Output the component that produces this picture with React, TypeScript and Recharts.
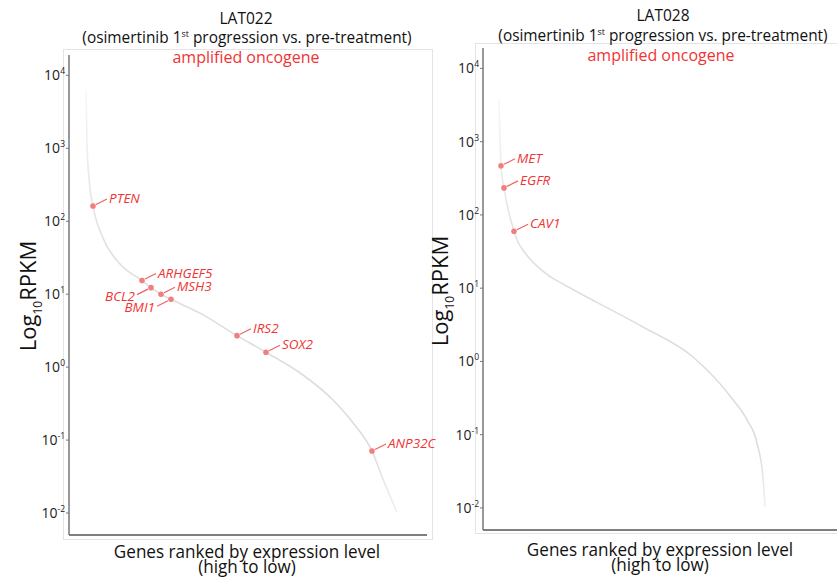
import React from 'react';
import { ComposedChart, Line, Scatter, XAxis, YAxis } from 'recharts';

// LAT022 ranked expression curve (rank, RPKM)
const lat022Rank = [950, 1006, 1117, 1341, 1899, 2849, 4078, 4581, 5140, 5698, 7318, 9385, 11006, 13073, 14749, 15866, 16927, 17542, 18324];
const lat022Rpkm = [6400, 1140, 390, 162, 59, 26, 15.4, 12.3, 10, 8.5, 5.5, 2.7, 1.6, 0.78, 0.355, 0.173, 0.071, 0.029, 0.0102];
const lat022Genes = ['PTEN', 'ARHGEF5', 'BCL2', 'MSH3', 'BMI1', 'IRS2', 'SOX2', 'ANP32C'];
const lat022GeneRank = [1341, 4078, 4581, 5140, 5698, 9385, 11006, 16927];
const lat022GeneRpkm = [162, 15.4, 12.3, 10, 8.5, 2.7, 1.6, 0.071];

// LAT028
const lat028Rank = [894, 950, 1006, 1173, 1732, 1955, 2235, 2626, 3017, 3631, 4469, 6369, 8939, 11732, 13966, 14749, 15307, 15642, 15754];
const lat028Rpkm = [3890, 1100, 468, 234, 60, 42.7, 33, 25, 20, 15.1, 11.4, 6.4, 2.95, 1.15, 0.3, 0.159, 0.077, 0.026, 0.0103];
const lat028Genes = ['MET', 'EGFR', 'CAV1'];
const lat028GeneRank = [1006, 1173, 1732];
const lat028GeneRpkm = [468, 234, 60];

const yTicks = [0.01, 0.1, 1, 10, 100, 1000, 10000];
const leftSideLabels = ['BCL2', 'BMI1'];

const FONT = '"Open Sans", sans-serif';
const RED = '#ef3434';

const curveOf = (ranks: number[], vals: number[]) => ranks.map((rank, i) => ({ rank, rpkm: vals[i] }));
const genesOf = (names: string[], ranks: number[], vals: number[]) =>
  names.map((gene, i) => ({ gene, rank: ranks[i], rpkm: vals[i], side: leftSideLabels.includes(gene) ? 'left' : 'right' }));

const PowerTick = ({ x, y, payload }: any) => {
  const exp = Math.round(Math.log10(payload.value));
  return (
    <text x={x + 1} y={y + 5} textAnchor="end" fontSize={14} fontFamily={FONT} fill="#222">
      10<tspan dy={-6} fontSize={8.5}>{exp}</tspan>
    </text>
  );
};

const GeneMark = (props: any) => {
  const { cx, cy, payload } = props;
  if (cx == null || cy == null) return null;
  const left = payload.side === 'left';
  const s = left ? -1 : 1;
  const dy = left ? 1 : -1;
  return (
    <g>
      <line x1={cx + s * 3} y1={cy + dy * 1.5} x2={cx + s * 14} y2={cy + dy * 7} stroke="#f06060" strokeWidth={1.2} />
      <circle cx={cx} cy={cy} r={2.8} fill="#f08080" />
      <text
        x={cx + s * 16}
        y={cy + dy * 8 + 5}
        textAnchor={left ? 'end' : 'start'}
        fontSize={13.5}
        fontStyle="italic"
        fontFamily={FONT}
        fill={RED}
      >
        {payload.gene}
      </text>
    </g>
  );
};

type PanelProps = {
  id: string;
  curve: { rank: number; rpkm: number }[];
  genes: any[];
  left: number;
  top: number;
  bottom: number;
};

function Panel({ id, curve, genes, left, top, bottom }: PanelProps) {
  const width = 460;
  return (
    <div style={{ position: 'absolute', left, top: 0 }}>
      <ComposedChart
        width={width}
        height={579}
        margin={{ top, left: 69 - 40, right: width - 69 - 358, bottom: 579 - bottom - 2 }}
      >
        <defs>
          <linearGradient id={id + 'grad'} x1="0" y1="0" x2="0" y2="1">
            <stop offset="0%" stopColor="#f7f7f7" />
            <stop offset="35%" stopColor="#e0e0e0" />
            <stop offset="85%" stopColor="#dcdcdc" />
            <stop offset="100%" stopColor="#f0f0f0" />
          </linearGradient>
        </defs>
        <XAxis
          type="number"
          dataKey="rank"
          domain={[0, 20000]}
          tick={false}
          tickLine={false}
          height={2}
          axisLine={{ stroke: '#555', strokeWidth: 1.5 }}
        />
        <YAxis
          type="number"
          scale="log"
          domain={[0.005, 19000]}
          allowDataOverflow
          ticks={yTicks}
          tick={<PowerTick />}
          tickSize={3}
          width={40}
          axisLine={{ stroke: '#777', strokeWidth: 1.5 }}
          tickLine={{ stroke: '#777' }}
        />
        <Line
          data={curve}
          dataKey="rpkm"
          type="monotone"
          stroke={`url(#${id}grad)`}
          strokeWidth={1.6}
          dot={false}
          isAnimationActive={false}
        />
        <Scatter data={genes} dataKey="rpkm" shape={<GeneMark />} isAnimationActive={false} />
      </ComposedChart>
    </div>
  );
}

export default function App() {
  const c022 = curveOf(lat022Rank, lat022Rpkm);
  const c028 = curveOf(lat028Rank, lat028Rpkm);
  const g022 = genesOf(lat022Genes, lat022GeneRank, lat022GeneRpkm);
  const g028 = genesOf(lat028Genes, lat028GeneRank, lat028GeneRpkm);
  return (
    <div style={{ position: 'absolute', left: 0, top: 0, width: 837, height: 579, overflow: 'hidden', background: '#fff' }}>
      <div style={{ position: 'absolute', left: 63, top: 49, width: 368, height: 489, border: '1px solid #e4e4e4' }} />
      <div style={{ position: 'absolute', left: 475, top: 43, width: 400, height: 489, border: '1px solid #e4e4e4' }} />
      <Panel id="l" curve={c022} genes={g022} left={0} top={55} bottom={535} />
      <Panel id="r" curve={c028} genes={g028} left={414} top={48} bottom={530} />
      <svg width={837} height={579} style={{ position: 'absolute', left: 0, top: 0, pointerEvents: 'none' }} fontFamily={FONT}>
        <text x={246} y={24} textAnchor="middle" fontSize={15.5} fill="#111">LAT022</text>
        <text x={247} y={43} textAnchor="middle" fontSize={15.4} fill="#111">
          (osimertinib 1<tspan dy={-6} fontSize={9}>st</tspan><tspan dy={6}> progression vs. pre-treatment)</tspan>
        </text>
        <text x={246} y={63} textAnchor="middle" fontSize={16} fill={RED}>amplified oncogene</text>
        <text x={663} y={21} textAnchor="middle" fontSize={15.5} fill="#111">LAT028</text>
        <text x={663} y={41} textAnchor="middle" fontSize={15.4} fill="#111">
          (osimertinib 1<tspan dy={-6} fontSize={9}>st</tspan><tspan dy={6}> progression vs. pre-treatment)</tspan>
        </text>
        <text x={661} y={61} textAnchor="middle" fontSize={16} fill={RED}>amplified oncogene</text>

        <text transform="translate(36,296) rotate(-90)" textAnchor="middle" fontSize={22} fill="#111">
          Log<tspan dy={6} fontSize={12}>10</tspan><tspan dy={-6}>RPKM</tspan>
        </text>
        <text transform="translate(448,291) rotate(-90)" textAnchor="middle" fontSize={22} fill="#111">
          Log<tspan dy={6} fontSize={12}>10</tspan><tspan dy={-6}>RPKM</tspan>
        </text>

        <text transform="translate(247,558) scale(0.9,1)" textAnchor="middle" fontSize={19} fill="#111">Genes ranked by expression level</text>
        <text transform="translate(247,573) scale(0.9,1)" textAnchor="middle" fontSize={19} fill="#111">(high to low)</text>
        <text transform="translate(660,556) scale(0.9,1)" textAnchor="middle" fontSize={19} fill="#111">Genes ranked by expression level</text>
        <text transform="translate(660,571) scale(0.9,1)" textAnchor="middle" fontSize={19} fill="#111">(high to low)</text>
      </svg>
    </div>
  );
}
